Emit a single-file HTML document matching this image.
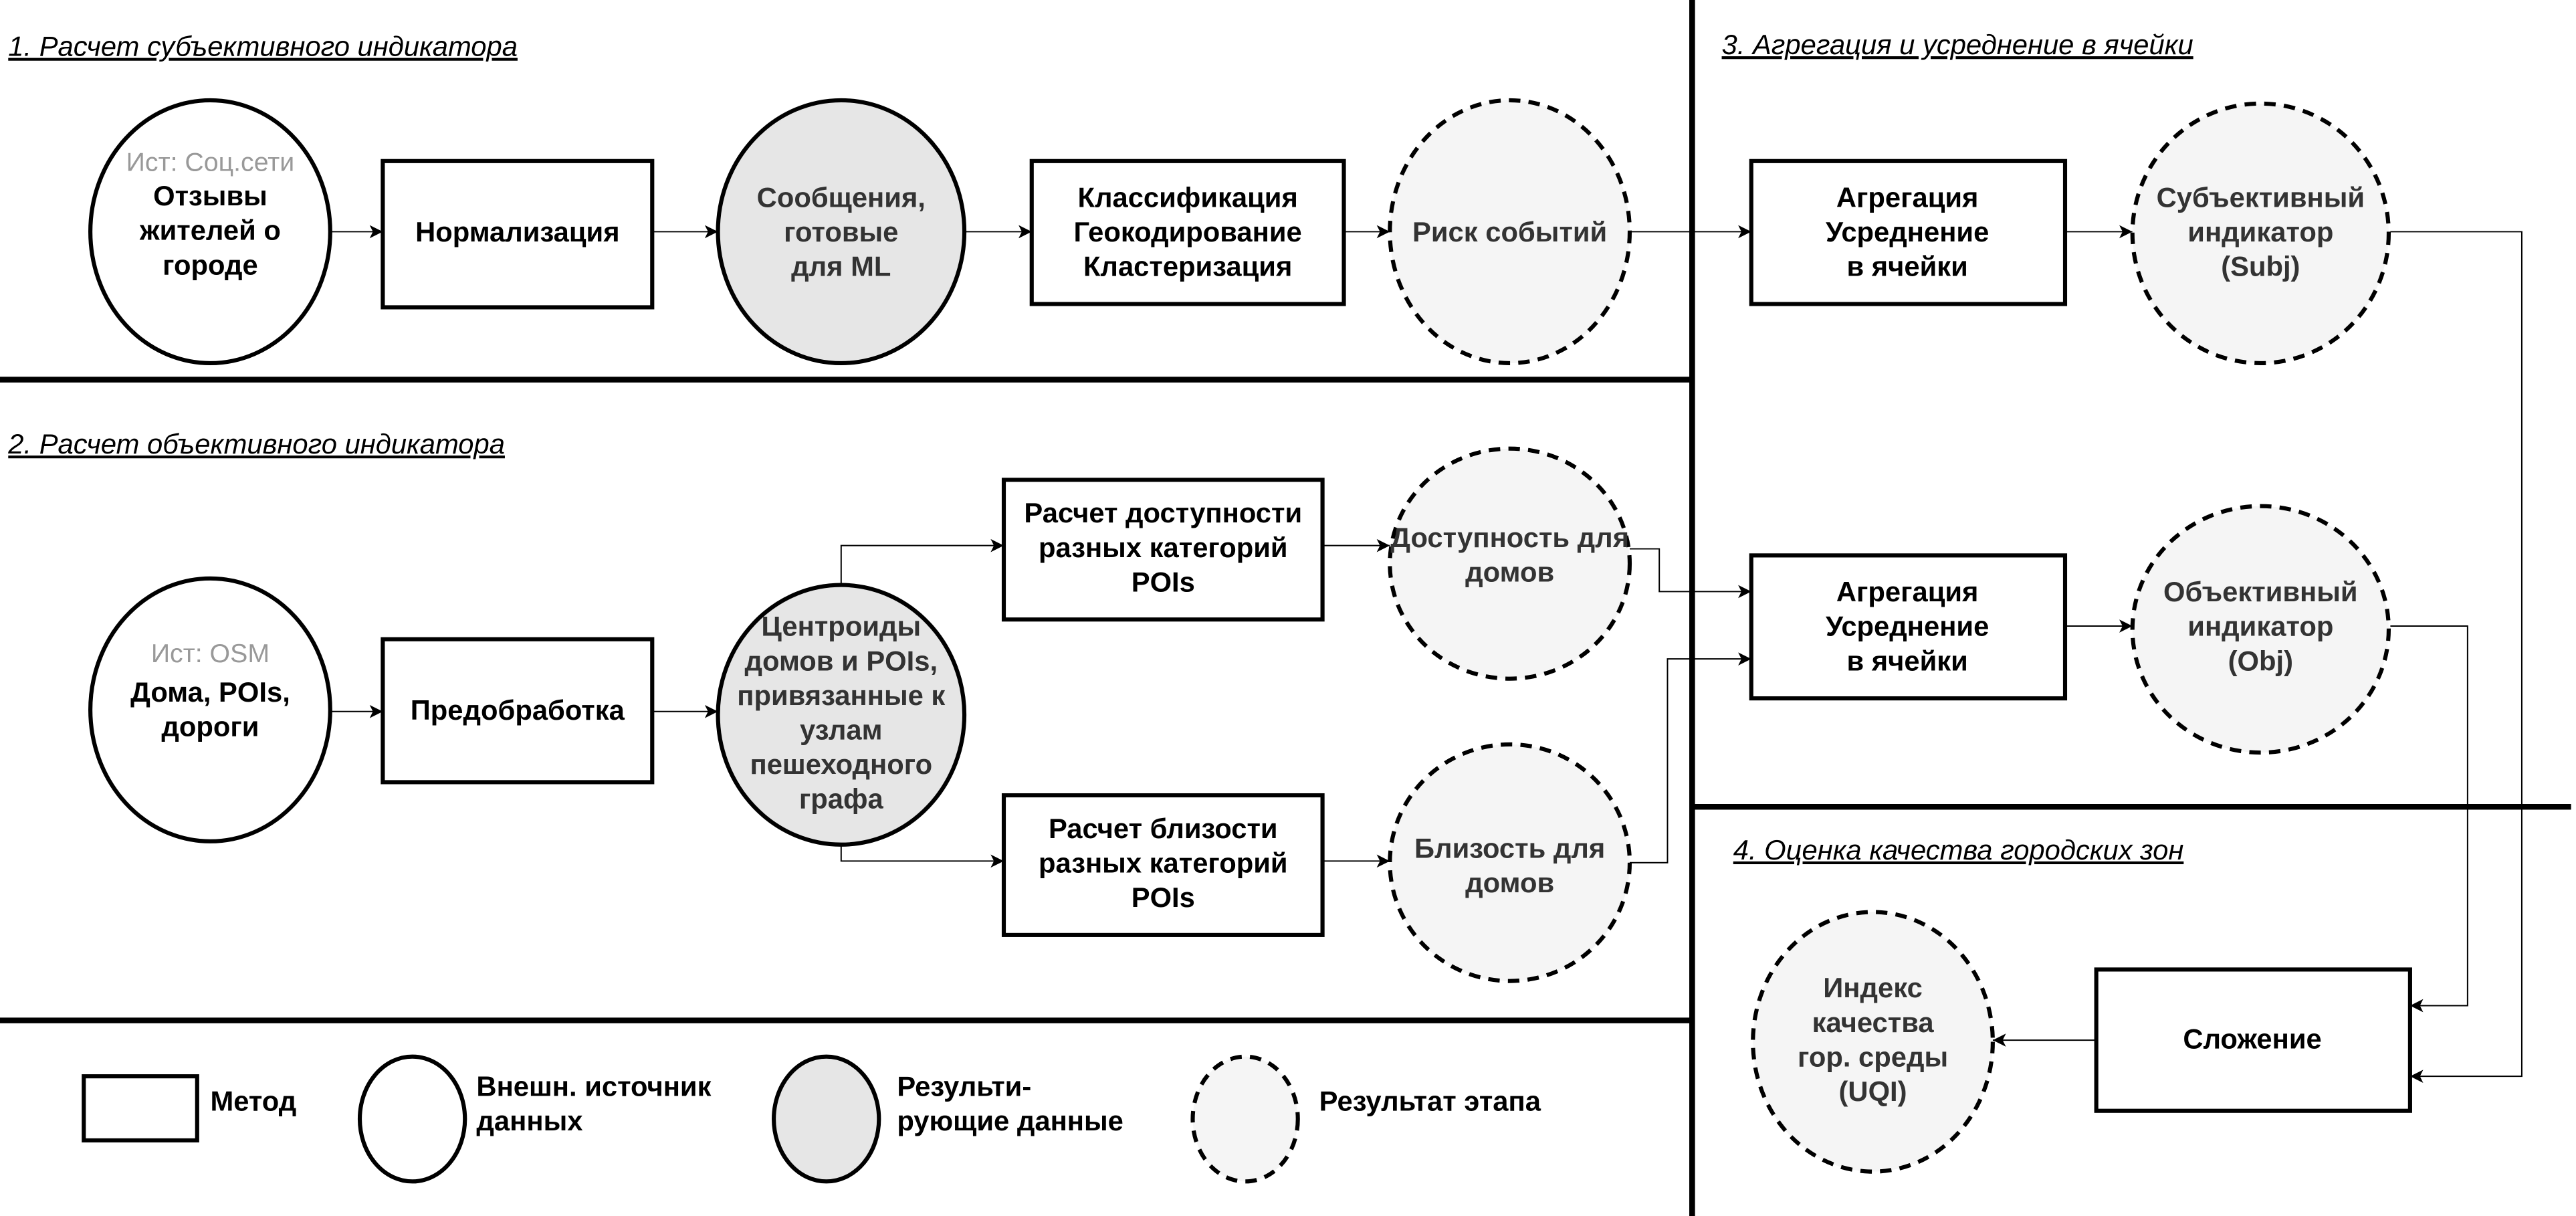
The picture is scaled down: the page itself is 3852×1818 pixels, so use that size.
<!DOCTYPE html>
<html><head><meta charset="utf-8"><style>
html,body{margin:0;padding:0;background:#fff;}
svg{display:block;}
text{font-family:"Liberation Sans","DejaVu Sans",sans-serif;}
.b{font-weight:bold;font-size:17px;text-anchor:middle;fill:#000;}
.g{font-weight:bold;font-size:17px;text-anchor:middle;fill:#333;}
.t{font-style:italic;font-size:17px;fill:#000;text-decoration:underline;}
.l{font-weight:bold;font-size:17px;fill:#000;}
.box{fill:#fff;stroke:#000;stroke-width:2.5;}
.src{fill:#fff;stroke:#000;stroke-width:2.5;}
.dat{fill:#e6e6e6;stroke:#000;stroke-width:2.5;}
.res{fill:#f5f5f5;stroke:#000;stroke-width:2.5;stroke-dasharray:7,5;}
.c{fill:none;stroke:#000;stroke-width:0.8;marker-end:url(#a);}
.sep{stroke:#000;stroke-width:3.5;}
</style></head><body>
<svg width="3852" height="1818" viewBox="0 0 1568 740" xmlns="http://www.w3.org/2000/svg">
<defs><marker id="a" markerWidth="10" markerHeight="10" refX="9" refY="5" orient="auto" markerUnits="userSpaceOnUse"><path d="M1,1 L9,5 L1,9 L3,5 Z" fill="#000"/></marker></defs>
<rect width="1568" height="740" fill="#fff"/>
<line class="sep" x1="1030" y1="0" x2="1030" y2="740"/>
<line class="sep" x1="0" y1="231" x2="1030" y2="231"/>
<line class="sep" x1="0" y1="621" x2="1030" y2="621"/>
<line class="sep" x1="1030" y1="491" x2="1565" y2="491"/>
<text class="t" x="5" y="34">1. Расчет субъективного индикатора</text>
<text class="t" x="5" y="276">2. Расчет объективного индикатора</text>
<text class="t" x="1048" y="33">3. Агрегация и усреднение в ячейки</text>
<text class="t" x="1055" y="523">4. Оценка качества городских зон</text>
<path class="c" d="M201,141 H233"/>
<path class="c" d="M397,141 H437"/>
<path class="c" d="M587,141 H628"/>
<path class="c" d="M818,141 H846"/>
<path class="c" d="M992,141 H1066"/>
<path class="c" d="M1257,141 H1298"/>
<path class="c" d="M1455,141 H1535 V655 H1467"/>
<path class="c" d="M201,433 H233"/>
<path class="c" d="M397,433 H437"/>
<path class="c" d="M512,356 V332 H611"/>
<path class="c" d="M512,515 V524 H611"/>
<path class="c" d="M805,332 H846"/>
<path class="c" d="M805,524 H846"/>
<path class="c" d="M992,334 H1010 V360 H1066"/>
<path class="c" d="M992,525 H1015 V401 H1066"/>
<path class="c" d="M1257,381 H1298"/>
<path class="c" d="M1455,381 H1502 V612 H1467"/>
<path class="c" d="M1276,633 H1213"/>
<ellipse class="src" cx="128" cy="141" rx="73" ry="80"/>
<text x="128" y="104" font-size="16" text-anchor="middle" fill="#999">Ист: Соц.сети</text>
<text class="b" x="128" y="125">Отзывы</text>
<text class="b" x="128" y="146">жителей о</text>
<text class="b" x="128" y="167">городе</text>
<rect class="box" x="233" y="98" width="164" height="89"/>
<text class="b" x="315" y="147">Нормализация</text>
<ellipse class="dat" cx="512" cy="141" rx="75" ry="80"/>
<text class="g" x="512" y="126">Сообщения,</text>
<text class="g" x="512" y="147">готовые</text>
<text class="g" x="512" y="168">для ML</text>
<rect class="box" x="628" y="98" width="190" height="87"/>
<text class="b" x="723" y="126">Классификация</text>
<text class="b" x="723" y="147">Геокодирование</text>
<text class="b" x="723" y="168">Кластеризация</text>
<ellipse class="res" cx="919" cy="141" rx="73" ry="80"/>
<text class="g" x="919" y="147">Риск событий</text>
<rect class="box" x="1066" y="98" width="191" height="87"/>
<text class="b" x="1161" y="126">Агрегация</text>
<text class="b" x="1161" y="147">Усреднение</text>
<text class="b" x="1161" y="168">в ячейки</text>
<ellipse class="res" cx="1376" cy="142" rx="78" ry="79"/>
<text class="g" x="1376" y="126">Субъективный</text>
<text class="g" x="1376" y="147">индикатор</text>
<text class="g" x="1376" y="168">(Subj)</text>
<ellipse class="src" cx="128" cy="432" rx="73" ry="80"/>
<text x="128" y="403" font-size="16" text-anchor="middle" fill="#999">Ист: OSM</text>
<text class="b" x="128" y="427">Дома, POIs,</text>
<text class="b" x="128" y="448">дороги</text>
<rect class="box" x="233" y="389" width="164" height="87"/>
<text class="b" x="315" y="438">Предобработка</text>
<ellipse class="dat" cx="512" cy="435" rx="75" ry="79"/>
<text class="g" x="512" y="387">Центроиды</text>
<text class="g" x="512" y="408">домов и POIs,</text>
<text class="g" x="512" y="429">привязанные к</text>
<text class="g" x="512" y="450">узлам</text>
<text class="g" x="512" y="471">пешеходного</text>
<text class="g" x="512" y="492">графа</text>
<rect class="box" x="611" y="292" width="194" height="85"/>
<text class="b" x="708" y="318">Расчет доступности</text>
<text class="b" x="708" y="339">разных категорий</text>
<text class="b" x="708" y="360">POIs</text>
<rect class="box" x="611" y="484" width="194" height="85"/>
<text class="b" x="708" y="510">Расчет близости</text>
<text class="b" x="708" y="531">разных категорий</text>
<text class="b" x="708" y="552">POIs</text>
<ellipse class="res" cx="919" cy="343" rx="73" ry="70"/>
<text class="g" x="919" y="333">Доступность для</text>
<text class="g" x="919" y="354">домов</text>
<ellipse class="res" cx="919" cy="525" rx="73" ry="72"/>
<text class="g" x="919" y="522">Близость для</text>
<text class="g" x="919" y="543">домов</text>
<rect class="box" x="1066" y="338" width="191" height="87"/>
<text class="b" x="1161" y="366">Агрегация</text>
<text class="b" x="1161" y="387">Усреднение</text>
<text class="b" x="1161" y="408">в ячейки</text>
<ellipse class="res" cx="1376" cy="383" rx="78" ry="75"/>
<text class="g" x="1376" y="366">Объективный</text>
<text class="g" x="1376" y="387">индикатор</text>
<text class="g" x="1376" y="408">(Obj)</text>
<rect class="box" x="1276" y="590" width="191" height="86"/>
<text class="b" x="1371" y="638">Сложение</text>
<ellipse class="res" cx="1140" cy="634" rx="73" ry="79"/>
<text class="g" x="1140" y="607">Индекс</text>
<text class="g" x="1140" y="628">качества</text>
<text class="g" x="1140" y="649">гор. среды</text>
<text class="g" x="1140" y="670">(UQI)</text>
<rect class="box" x="51" y="655" width="69" height="39"/>
<text class="l" x="128" y="676">Метод</text>
<ellipse class="src" cx="251" cy="681" rx="32" ry="38"/>
<text class="l" x="290" y="667">Внешн. источник</text>
<text class="l" x="290" y="688">данных</text>
<ellipse class="dat" cx="503" cy="681" rx="32" ry="38"/>
<text class="l" x="546" y="667">Результи-</text>
<text class="l" x="546" y="688">рующие данные</text>
<ellipse class="res" cx="758" cy="681" rx="32" ry="38"/>
<text class="l" x="803" y="676">Результат этапа</text>
</svg>
</body></html>
